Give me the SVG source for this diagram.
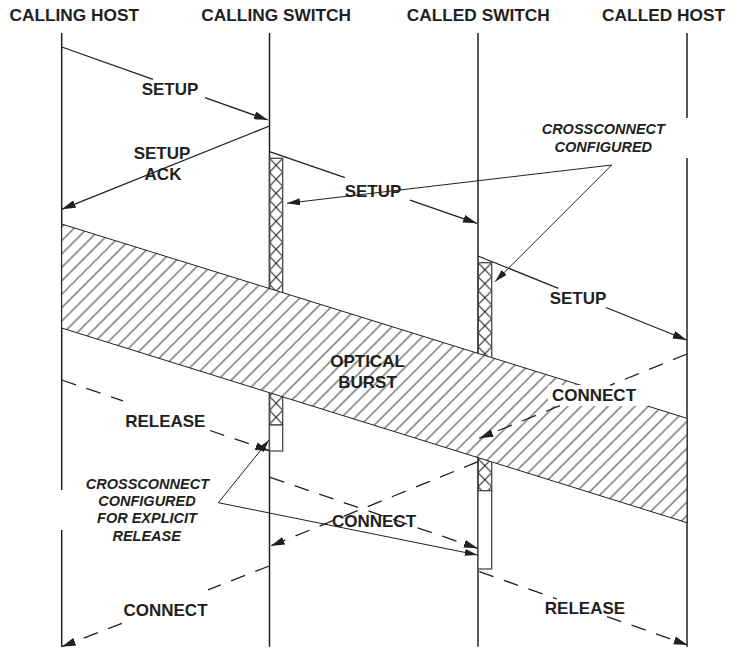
<svg xmlns="http://www.w3.org/2000/svg" width="732" height="651" viewBox="0 0 732 651">
<defs>
<style>
.life{stroke:#231f20;stroke-width:1.5;fill:none}
.msg{stroke:#231f20;stroke-width:1.3;fill:none}
.dash{stroke-dasharray:15 11}
.call{stroke:#231f20;stroke-width:1;fill:none}
.box{stroke:#4a4a4a;stroke-width:1.3}
.hdr{font-family:"Liberation Sans",Arial,Helvetica,sans-serif;font-weight:bold;font-size:17.3px;fill:#231f20;text-anchor:middle}
.lbl{font-family:"Liberation Sans",Arial,Helvetica,sans-serif;font-weight:bold;font-size:17px;fill:#231f20;text-anchor:middle}
.it{font-family:"Liberation Sans",Arial,Helvetica,sans-serif;font-weight:bold;font-style:italic;font-size:14.5px;fill:#231f20;text-anchor:middle}
</style>
<marker id="ah" viewBox="0 0 14 8" markerWidth="14" markerHeight="8" refX="14" refY="4" orient="auto" markerUnits="userSpaceOnUse"><path d="M0,0 L14,4 L0,8 z" fill="#231f20"/></marker>
<marker id="ah2" viewBox="0 0 13 7" markerWidth="13" markerHeight="7" refX="13" refY="3.5" orient="auto" markerUnits="userSpaceOnUse"><path d="M0,0 L13,3.5 L0,7 z" fill="#231f20"/></marker>
<pattern id="xh1" x="269.5" y="158.3" width="13.2" height="14" patternUnits="userSpaceOnUse"><path d="M0,0 L13.2,14 M13.2,0 L0,14" stroke="#231f20" stroke-width="1.1" fill="none"/></pattern>
<pattern id="xh2" x="478" y="262.7" width="13.7" height="14" patternUnits="userSpaceOnUse"><path d="M0,0 L13.7,14 M13.7,0 L0,14" stroke="#231f20" stroke-width="1.1" fill="none"/></pattern>
<pattern id="diag" width="9.5" height="9.5" patternUnits="userSpaceOnUse" patternTransform="rotate(45)"><line x1="4.75" y1="-1" x2="4.75" y2="10.5" stroke="#231f20" stroke-width="0.9"/></pattern>
</defs>
<rect width="732" height="651" fill="#ffffff"/>

<g id="calling-host">
<text class="hdr" x="74.3" y="20.7">CALLING HOST</text>
<path class="life" d="M61.7,33 V490 M61.7,530 V646.7"/>
</g>
<g id="calling-switch">
<text class="hdr" x="276.2" y="20.7">CALLING SWITCH</text>
<path class="life" d="M269.5,33 V646.7"/>
<rect class="box" x="269.5" y="158.3" width="13.2" height="266.7" fill="url(#xh1)"/>
<rect class="box" x="269.5" y="425" width="13.2" height="26" fill="#ffffff"/>
</g>
<g id="called-switch">
<text class="hdr" x="478.3" y="20.7">CALLED SWITCH</text>
<path class="life" d="M478,33 V646.7"/>
<rect class="box" x="478" y="262.7" width="13.7" height="228" fill="url(#xh2)"/>
<rect class="box" x="478" y="490.7" width="13.7" height="78.3" fill="#ffffff"/>
</g>
<g id="called-host">
<text class="hdr" x="725" y="20.7" style="text-anchor:end">CALLED HOST</text>
<path class="life" d="M687,33 V118 M687,158 V646.7"/>
</g>

<g id="optical-burst">
<polygon points="61.7,224 687,418.3 687,522.7 61.7,328" fill="#ffffff"/>
<polygon points="61.7,224 687,418.3 687,522.7 61.7,328" fill="url(#diag)" stroke="#231f20" stroke-width="1"/>
<rect x="548" y="385" width="100" height="21" fill="#ffffff"/>
<text class="lbl" x="367.5" y="367.3">OPTICAL</text>
<text class="lbl" x="367.5" y="388.3">BURST</text>
</g>

<g id="connectors">
<path class="msg" d="M61.7,47 L153,79.3"/>
<path class="msg" d="M205,97.7 L268,120" marker-end="url(#ah)"/>
<path class="msg" d="M269.5,126 L61.7,209.3" marker-end="url(#ah)"/>
<path class="msg" d="M269.5,151.7 L345,177.7"/>
<path class="msg" d="M410,200.2 L477,223.3" marker-end="url(#ah)"/>
<path class="msg" d="M478,256 L558.3,288.3"/>
<path class="msg" d="M606,307.5 L686.7,340" marker-end="url(#ah)"/>
<path class="msg dash" d="M687,354 L610,385.3"/>
<path class="msg dash" d="M560,405.6 L479.3,438.3" marker-end="url(#ah)"/>
<path class="msg dash" d="M478,461.7 L270.7,546" marker-end="url(#ah)"/>
<path class="msg dash" d="M61.7,380 L123,400.9"/>
<path class="msg dash" d="M210,430.5 L269.3,450.7" marker-end="url(#ah)"/>
<path class="msg dash" d="M270,477.3 L477.7,548.3" marker-end="url(#ah)"/>
<path class="msg dash" d="M269.3,566 L208,589.8"/>
<path class="msg dash" d="M122,623.3 L61.7,646.7" marker-end="url(#ah)"/>
<path class="msg dash" d="M479.3,571.7 L557,599"/>
<path class="msg dash" d="M607,616.6 L687.7,645" marker-end="url(#ah)"/>
<path class="call" d="M611.7,165 L287,203.3" marker-end="url(#ah2)"/>
<path class="call" d="M611.7,165 L495,281.7" marker-end="url(#ah2)"/>
<path class="call" d="M218.3,502.7 L269,440" marker-end="url(#ah2)"/>
<path class="call" d="M218.3,502.7 L477.7,555" marker-end="url(#ah2)"/>
</g>

<g id="labels">
<text class="lbl" x="170" y="95">SETUP</text>
<text class="lbl" x="162" y="159">SETUP</text>
<text class="lbl" x="163" y="180">ACK</text>
<text class="lbl" x="373" y="196.7">SETUP</text>
<text class="lbl" x="578" y="304">SETUP</text>
<text class="lbl" x="594" y="400.7">CONNECT</text>
<text class="lbl" x="374" y="527.3">CONNECT</text>
<text class="lbl" x="165.5" y="616">CONNECT</text>
<text class="lbl" x="165.3" y="426.7">RELEASE</text>
<text class="lbl" x="585" y="614">RELEASE</text>
<text class="it" x="603.3" y="134.3">CROSSCONNECT</text>
<text class="it" x="603.3" y="151.7">CONFIGURED</text>
<text class="it" x="147.4" y="489">CROSSCONNECT</text>
<text class="it" x="147" y="506">CONFIGURED</text>
<text class="it" x="147" y="523.3">FOR EXPLICIT</text>
<text class="it" x="146.7" y="540.7">RELEASE</text>
</g>
</svg>
